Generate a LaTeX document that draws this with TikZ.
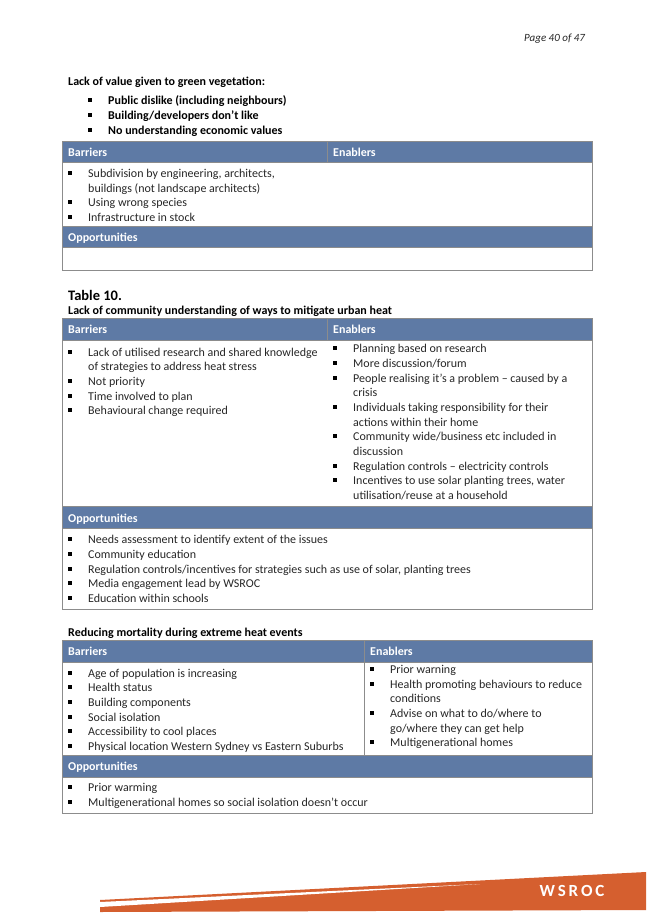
\documentclass[tikz,border=0pt]{standalone}
\usepackage{fontspec}
\setmainfont{Carlito}
\newcounter{nn}
\tikzset{
 txt/.style={anchor=base west,inner sep=0pt,font=\fontsize{12}{12}\selectfont,text=black!85},
 bold/.style={txt,font=\fontsize{12}{12}\selectfont\bfseries,text=black},
 hdr/.style={anchor=base west,inner sep=0pt,font=\fontsize{12}{12}\selectfont\bfseries,text=white},
 hfill/.style={fill=hcol,draw=black!45,line width=0.6pt},
 cell/.style={draw=black!45,line width=0.6pt},
}
\definecolor{hcol}{HTML}{5E7AA5}
\definecolor{wor}{HTML}{D55F2F}
\newcommand{\T}[4][txt]{\stepcounter{nn}\node[#1] (t\thenn) at (#2,#3) {#4};}
\newcommand{\B}[4][txt]{\stepcounter{nn}\fill[black] (#2-2,#3-6) rectangle (#2+1.8,#3-2.2);\node[#1] (t\thenn) at (#2+18,#3) {#4};}
\begin{document}
\begin{tikzpicture}[x=1pt,y=-1pt]
\useasboundingbox (0,0) rectangle (653,924);
\T[txt,font=\fontsize{11}{12}\selectfont\itshape]{524}{41}{Page 40 of 47}
\T[bold]{68}{85}{Lack of value given to green vegetation:}
\B[bold]{90}{104}{Public dislike (including neighbours)}
\B[bold]{90}{119}{Building/developers don’t like}
\B[bold]{90}{134}{No understanding economic values}
% table 1
\draw[hfill] (62,141) rectangle (327,162);
\draw[hfill] (327,141) rectangle (592,162);
\draw[cell] (62,162) rectangle (592,226);
\draw[hfill] (62,226) rectangle (592,247);
\draw[cell] (62,247) rectangle (592,270);
\T[hdr]{68}{156}{Barriers}
\T[hdr]{333}{156}{Enablers}
\T[hdr]{68}{241}{Opportunities}
\B{70}{177}{Subdivision by engineering, architects,}
\T{88}{192}{buildings (not landscape architects)}
\B{70}{206}{Using wrong species}
\B{70}{221}{Infrastructure in stock}
% table 10
\T[bold,font=\fontsize{14.5}{15}\selectfont\bfseries]{68}{300}{Table 10.}
\T[bold]{68}{314}{Lack of community understanding of ways to mitigate urban heat}
\draw[hfill] (62,318) rectangle (327,340);
\draw[hfill] (327,318) rectangle (592,340);
\draw[cell] (62,340) rectangle (592,506);
\draw[hfill] (62,506) rectangle (592,528);
\draw[cell] (62,528) rectangle (592,609);
\T[hdr]{68}{333}{Barriers}
\T[hdr]{333}{333}{Enablers}
\T[hdr]{68}{522}{Opportunities}
\B{70}{356}{Lack of utilised research and shared knowledge}
\T{88}{370}{of strategies to address heat stress}
\B{70}{385}{Not priority}
\B{70}{400}{Time involved to plan}
\B{70}{414}{Behavioural change required}
\B{335}{352}{Planning based on research}
\B{335}{367}{More discussion/forum}
\B{335}{382}{People realising it’s a problem – caused by a}
\T{353}{396}{crisis}
\B{335}{411}{Individuals taking responsibility for their}
\T{353}{426}{actions within their home}
\B{335}{440}{Community wide/business etc included in}
\T{353}{455}{discussion}
\B{335}{470}{Regulation controls – electricity controls}
\B{335}{484}{Incentives to use solar planting trees, water}
\T{353}{499}{utilisation/reuse at a household}
\B{70}{543}{Needs assessment to identify extent of the issues}
\B{70}{558}{Community education}
\B{70}{573}{Regulation controls/incentives for strategies such as use of solar, planting trees}
\B{70}{587}{Media engagement lead by WSROC}
\B{70}{602}{Education within schools}
% table 3
\T[bold]{68}{636}{Reducing mortality during extreme heat events}
\draw[hfill] (62,640) rectangle (364,662);
\draw[hfill] (364,640) rectangle (592,662);
\draw[cell] (62,662) rectangle (592,755);
\draw[cell] (364,662) -- (364,755);
\draw[hfill] (62,755) rectangle (592,777);
\draw[cell] (62,777) rectangle (592,813);
\T[hdr]{68}{655}{Barriers}
\T[hdr]{370}{655}{Enablers}
\T[hdr]{68}{770}{Opportunities}
\B{70}{677}{Age of population is increasing}
\B{70}{691}{Health status}
\B{70}{706}{Building components}
\B{70}{721}{Social isolation}
\B{70}{735}{Accessibility to cool places}
\B{70}{750}{Physical location Western Sydney vs Eastern Suburbs}
\B{372}{673}{Prior warning}
\B{372}{688}{Health promoting behaviours to reduce}
\T{390}{702}{conditions}
\B{372}{717}{Advise on what to do/where to}
\T{390}{732}{go/where they can get help}
\B{372}{746}{Multigenerational homes}
\B{70}{791}{Prior warming}
\B{70}{806}{Multigenerational homes so social isolation doesn’t occur}
% footer
\fill[wor] (100,912) -- (100,900) -- (646,872) -- (646,910) -- cycle;
\fill[white] (100,902) -- (480,884) -- (100,907) -- cycle;
\stepcounter{nn}\node[anchor=center,inner sep=0pt,text=white,font=\fontsize{17}{17}\selectfont\bfseries] (logo) at (572,891) {W\,S\,R\,O\,C};
\end{tikzpicture}
\end{document}
